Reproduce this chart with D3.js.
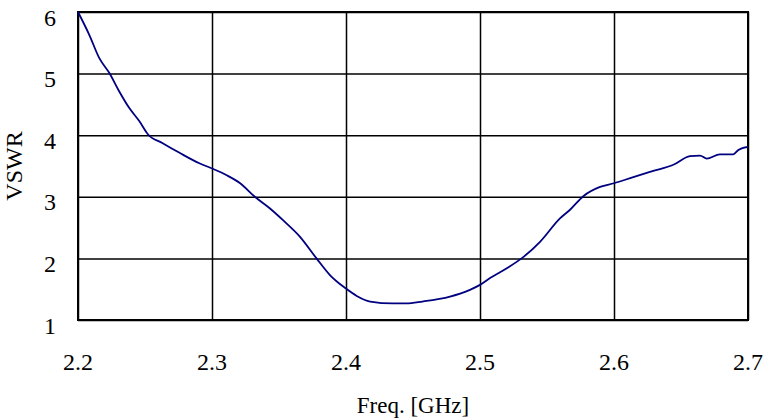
<!DOCTYPE html>
<html>
<head>
<meta charset="utf-8">
<script src="https://cdn.jsdelivr.net/npm/d3@7"></script>
<style>
  body { margin: 0; background: #fff; }
  svg text { font-family: "Liberation Serif", "Times New Roman", serif; fill: #000; }
</style>
</head>
<body>
<div id="chart"></div>
<script>
var width = 765;
var height = 420;

// plot box (don't call it "top", that's window.top)
var padLeft = 78, padRight = 748, padTop = 12, padBottom = 320;

// data
var freq = [2.200, 2.2084, 2.2159, 2.2234, 2.2308, 2.2383, 2.2457, 2.252, 2.2632, 2.2761,
            2.291, 2.300, 2.311, 2.321, 2.332, 2.3433, 2.353, 2.3657, 2.378, 2.388,
            2.400, 2.408, 2.418, 2.435, 2.445, 2.457, 2.4776, 2.4925, 2.500, 2.5075,
            2.520, 2.531, 2.5448, 2.5597, 2.5672, 2.5771, 2.5896, 2.600, 2.6144, 2.6293,
            2.6443, 2.6567, 2.6642, 2.6692, 2.679, 2.689, 2.6928, 2.700];
var vswr = [6.0, 5.63, 5.25, 5.01, 4.71, 4.44, 4.23, 4.02, 3.87, 3.71,
            3.54, 3.46, 3.35, 3.22, 3.0, 2.81, 2.62, 2.35, 2.0, 1.73,
            1.51, 1.39, 1.30, 1.27, 1.27, 1.30, 1.38, 1.49, 1.57, 1.68,
            1.84, 2.0, 2.27, 2.65, 2.79, 3.01, 3.16, 3.22, 3.32, 3.42,
            3.52, 3.66, 3.67, 3.62, 3.69, 3.69, 3.76, 3.81];

var xTicks = [2.2, 2.3, 2.4, 2.5, 2.6, 2.7];
var yTicks = [1, 2, 3, 4, 5, 6];

var xLabel = 'Freq. [GHz]';
var yLabel = 'VSWR';

var svg = d3.select('#chart').append('svg').attr('width', width).attr('height', height);

var x = d3.scaleLinear().domain([2.2, 2.7]).range([padLeft, padRight]);
var y = d3.scaleLinear().domain([1, 6]).range([padBottom, padTop]);

// grid lines
svg.append('g').attr('transform', 'translate(0,' + padBottom + ')')
  .call(d3.axisBottom(x).tickValues(xTicks).tickSize(-(padBottom - padTop)).tickFormat(''))
  .call(function(g) { g.select('.domain').remove(); })
  .selectAll('line').attr('stroke', '#000').attr('stroke-width', 1.5);

svg.append('g').attr('transform', 'translate(' + padLeft + ',0)')
  .call(d3.axisLeft(y).tickValues(yTicks).tickSize(-(padRight - padLeft)).tickFormat(''))
  .call(function(g) { g.select('.domain').remove(); })
  .selectAll('line').attr('stroke', '#000').attr('stroke-width', 1.5);

// frame
svg.append('rect')
  .attr('x', padLeft).attr('y', padTop)
  .attr('width', padRight - padLeft).attr('height', padBottom - padTop)
  .attr('fill', 'none').attr('stroke', '#000').attr('stroke-width', 2);

// tick labels
svg.selectAll('.xt').data(xTicks).enter().append('text')
  .attr('class', 'xt')
  .attr('x', function(d) { return x(d); })
  .attr('y', 369.5)
  .attr('text-anchor', 'middle')
  .style('font-size', '24px')
  .text(function(d) { return d3.format('.1f')(d); });

svg.selectAll('.yt').data(yTicks).enter().append('text')
  .attr('class', 'yt')
  .attr('x', 50)
  .attr('y', function(d) { return y(d) + 13.5; })
  .attr('text-anchor', 'middle')
  .style('font-size', '24px')
  .text(function(d) { return d; });

// axis titles
svg.append('text')
  .attr('x', (padLeft + padRight) / 2).attr('y', 413)
  .attr('text-anchor', 'middle')
  .style('font-size', '23px')
  .text(xLabel);

svg.append('text')
  .attr('transform', 'translate(21.5,166) rotate(-90)')
  .attr('text-anchor', 'middle')
  .style('font-size', '24px')
  .text(yLabel);

// the curve
var line = d3.line()
  .x(function(d, i) { return x(freq[i]); })
  .y(function(d) { return y(d); })
  .curve(d3.curveMonotoneX);

svg.append('path')
  .datum(vswr)
  .attr('d', line)
  .attr('fill', 'none')
  .attr('stroke', '#000080')
  .attr('stroke-width', 1.8);
</script>
</body>
</html>
